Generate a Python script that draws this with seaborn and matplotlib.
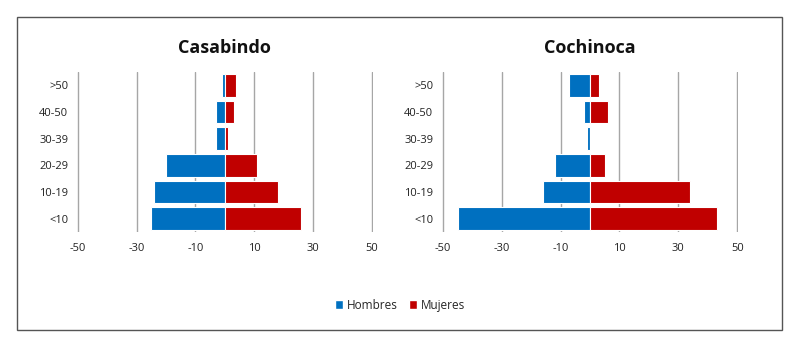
import pandas as pd
import seaborn as sns
import matplotlib.pyplot as plt
from matplotlib.patches import Rectangle, Patch

# age groups, top to bottom
age_groups = [">50", "40-50", "30-39", "20-29", "10-19", "<10"]

casabindo_hombres = [-1, -3, -3, -20, -24, -25]
casabindo_mujeres = [4, 3, 1, 11, 18, 26]

cochinoca_hombres = [-7, -2, -1, -12, -16, -45]
cochinoca_mujeres = [3, 6, 0, 5, 34, 43]

x_ticks = [-50, -30, -10, 10, 30, 50]
palette = {"Hombres": "#0070C0", "Mujeres": "#C00000"}


def to_frame(hombres, mujeres):
    rows = []
    for age, h, m in zip(age_groups, hombres, mujeres):
        rows.append({"Edad": age, "Sexo": "Hombres", "Valor": h})
        rows.append({"Edad": age, "Sexo": "Mujeres", "Valor": m})
    return pd.DataFrame(rows)


sns.set_style("white")
plt.rcParams["font.family"] = ["Open Sans", "DejaVu Sans"]

fig = plt.figure(figsize=(8, 3.5), dpi=100)
panels = [
    ("Casabindo", casabindo_hombres, casabindo_mujeres, [0.0959, 0.337, 0.370, 0.457]),
    ("Cochinoca", cochinoca_hombres, cochinoca_mujeres, [0.552, 0.337, 0.371, 0.457]),
]

for title, hombres, mujeres, rect in panels:
    ax = fig.add_axes(rect)
    df = to_frame(hombres, mujeres)
    sns.barplot(
        data=df, y="Edad", x="Valor", hue="Sexo", order=age_groups,
        palette=palette, saturation=1, dodge=False, orient="h", width=0.85,
        edgecolor="white", linewidth=0.8, legend=False, ax=ax,
    )
    ax.set_xlim(-50.4, 50.4)
    ax.set_ylim(5.5, -0.5)
    ax.set_xticks(x_ticks)
    ax.set_xticklabels([str(t) for t in x_ticks], fontsize=8, color="#222222")
    for lbl in ax.get_yticklabels():
        lbl.set_color("#222222")
    ax.tick_params(axis="y", labelsize=8, length=0, pad=6)
    ax.tick_params(axis="x", length=0, pad=8)
    ax.grid(axis="x", color="#A6A6A6", linewidth=1)
    ax.set_axisbelow(True)
    for s in ax.spines.values():
        s.set_visible(False)
    ax.set_xlabel("")
    ax.set_ylabel("")
    ax.set_title(title, fontsize=13, fontweight="bold", pad=14, color="#111111")

fig.patches.append(Rectangle((0.021, 0.057), 0.957, 0.894, transform=fig.transFigure,
                             fill=False, edgecolor="#555555", linewidth=1))

handles = [Patch(facecolor=palette[k], label=k) for k in palette]
fig.legend(handles=handles, loc="center", bbox_to_anchor=(0.5, 0.128), ncol=2,
           frameon=False, fontsize=8.5, handlelength=0.7, handleheight=0.7,
           handletextpad=0.3, columnspacing=1.0)

fig.savefig("out.png", dpi=100)
